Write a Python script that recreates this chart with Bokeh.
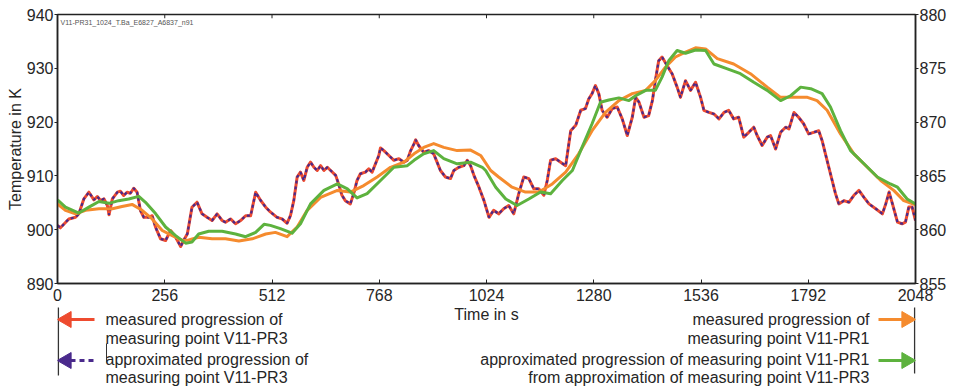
import math
from bokeh.plotting import figure
from bokeh.layouts import column
from bokeh.models import Range1d, LinearAxis, Label, FixedTicker
from bokeh.core.properties import value
from bokeh.embed import file_html
from bokeh.resources import INLINE

# ---- data (time in s, temperature in K) ----
t_pr3 = [0, 7, 27, 43, 51, 63, 75, 87, 95, 103, 111, 119, 123, 131, 143, 150, 158, 166, 174, 182,
         190, 198, 206, 218, 226, 234, 246, 258, 270, 282, 294, 301, 310, 321, 333, 345, 357, 369,
         381, 393, 401, 413, 425, 437, 449, 461, 473, 485, 497,
         508, 524, 536, 548, 556, 564, 572, 580, 588, 596, 604, 612, 620, 628, 636, 644, 652, 664,
         671, 679, 687, 699, 707, 715, 723, 735, 743, 751, 759, 767, 771, 779, 791, 803, 815, 827,
         835, 843, 851, 855, 862, 874, 886, 898, 906, 914, 926, 938, 946, 958, 970, 978, 986, 994,
         1006, 1018,
         1030, 1041, 1053, 1065, 1077, 1089, 1101, 1113, 1125, 1137, 1149, 1161, 1169, 1177, 1189,
         1201, 1213, 1225, 1237, 1249, 1260, 1268, 1276, 1284, 1292, 1300, 1312, 1324, 1336, 1348,
         1360, 1372, 1380, 1388, 1400, 1411, 1420, 1427, 1435, 1443, 1455, 1467, 1479, 1487, 1499,
         1511, 1523, 1535,
         1543, 1555, 1567, 1579, 1591, 1602, 1614, 1626, 1638, 1650, 1662, 1670, 1682, 1694, 1702,
         1714, 1726, 1738, 1746, 1758, 1769, 1781, 1793, 1805, 1817, 1825, 1833, 1845, 1857, 1865,
         1877, 1889, 1901, 1913, 1925, 1937, 1953, 1969, 1977, 1985, 1993, 2005, 2016, 2024, 2032,
         2040, 2048]
v_pr3 = [900.8, 900.35, 902.0, 902.3, 902.95, 905.74, 906.97, 905.55, 906.17, 905.43, 905.74, 904.5,
         902.77, 905.74, 906.97, 907.16, 906.36, 906.97, 906.78, 907.71,
         906.97, 903.57, 902.3, 902.3, 902.6, 900.47, 898.31, 897.99, 899.85, 898.6, 896.88, 897.99,
         899.24, 904.18, 905.11, 902.95, 902.3, 901.71,
         902.95, 901.71, 901.4, 902.0, 901.1, 901.7, 902.6, 902.6, 906.97, 905.43, 904.18,
         903.3, 902.3, 902.0, 901.2, 902.6, 905.4, 909.76, 910.7, 909.15, 911.6, 912.55, 911.6, 911.0,
         911.9, 911.0, 911.6, 911.0, 910.1,
         908.5, 906.4, 905.4, 904.8, 906.7, 909.15, 910.4, 910.7, 911.3, 910.7, 912.25, 913.8, 915.2,
         914.7, 913.8, 912.9, 913.2, 912.55,
         912.9, 914.7, 915.96, 916.7, 915.65, 914.4, 914.7, 914.1, 912.55, 911.0, 909.8, 909.5, 911.0,
         911.6, 911.9, 912.9, 911.9, 910.1,
         907.9, 905.4,
         902.3, 903.6, 902.95, 903.9, 904.5, 902.95, 906.7, 909.8, 909.5, 907.6, 907.6, 906.4, 909.15,
         912.9, 913.2,
         912.55, 911.9, 918.4, 919.4, 922.2, 922.5, 924.3, 925.3, 926.8, 925.3, 922.2, 920.9, 922.5,
         922.8, 920.6,
         917.5, 920.9, 924.6, 923.7, 920.9, 921.2, 924.0, 927.7, 931.4, 932.1, 930.5, 929.0, 926.5,
         924.6, 927.7,
         925.9, 927.4, 924.6,
         922.2, 921.8, 921.5, 920.6, 921.8, 922.2, 920.6, 920.9, 917.2, 918.1, 919.05, 917.5, 915.65,
         917.2, 917.5,
         915.0, 918.1, 919.05, 918.75, 921.8, 920.9, 919.7, 917.8, 918.1, 918.4, 916.6, 914.1, 910.4,
         906.7, 904.8,
         905.4, 905.1, 906.4, 907.3, 906.0, 904.8, 903.9, 902.95, 904.8, 907.0, 904.8, 901.4, 901.1,
         901.4, 904.2,
         904.2, 901.7]

t_pr1 = [0, 19, 43, 67, 99, 131, 154, 178, 202, 226, 250, 274, 298, 313, 337, 369, 401, 433, 465,
         497, 520, 548, 572, 596, 628, 668, 699, 731, 763, 795, 827, 851, 874, 898, 922, 954, 986,
         1010, 1034, 1053, 1085, 1117, 1149, 1181, 1213, 1244, 1276, 1308, 1340, 1372, 1404, 1427,
         1451, 1475, 1499, 1523, 1547, 1575, 1614, 1654, 1694, 1726, 1758, 1790, 1813, 1837, 1869,
         1901, 1933, 1965, 1996, 2020, 2048]
v_pr1 = [904.8, 903.6, 902.95, 903.6, 903.9, 903.9, 904.3, 904.7, 903.6, 902.0, 899.85, 898.9, 898.0,
         898.1, 898.6, 898.3, 898.3, 897.9, 898.3,
         899.2, 899.5, 898.7, 900.5, 903.6, 906.0, 907.3, 907.0, 908.2, 909.8, 911.6, 912.55, 914.1,
         915.3, 916.0, 915.3, 914.7, 914.8,
         913.8, 911.0, 909.8, 907.9, 907.0, 907.0, 908.5, 910.7, 914.1, 918.4, 921.8, 924.0, 925.3,
         925.9, 927.7,
         930.2, 932.1, 933.0, 933.8, 933.6, 931.8, 930.8, 929.0, 926.5, 924.6, 924.6, 924.6, 924.0,
         922.2, 917.8,
         914.1, 911.6, 909.15, 907.3, 905.4, 904.6]

t_app = [0, 19, 51, 75, 99, 123, 146, 170, 194, 210, 234, 258, 282, 306, 321, 337, 361, 393, 425,
         449, 473, 493, 508, 532, 560, 580, 604, 636, 668, 692, 715, 739, 771, 803, 835, 851, 874,
         898, 922, 954, 986, 1014, 1022, 1046, 1070, 1097, 1125, 1153, 1177, 1205, 1229, 1252, 1276,
         1296, 1316, 1340, 1364, 1380, 1404, 1427, 1443, 1459, 1479, 1499, 1523, 1547, 1567, 1599,
         1630, 1662, 1694, 1726, 1750, 1774, 1798, 1825, 1845, 1869, 1893, 1925, 1957, 1988, 2005,
         2028, 2048]
v_app = [905.55, 904.2, 903.1, 904.2, 905.25, 904.9, 905.4, 905.7, 906.2, 905.1, 903.0, 900.5, 898.9,
         897.5, 897.7, 899.2, 899.7, 899.7, 899.2,
         898.7, 899.5, 901.0, 900.8, 900.2, 899.35, 901.1, 904.8, 907.3, 908.5, 907.6, 905.9, 906.7,
         909.15, 911.6, 911.9, 912.9, 914.1,
         914.7, 913.2, 912.25, 912.55, 911.6, 911.0, 907.9, 905.7, 904.5, 905.7, 907.0, 906.7, 909.15,
         911.0, 915.3, 919.7,
         923.7, 924.1, 924.5, 924.0, 924.9, 925.9, 925.9, 928.35, 931.4, 933.3, 932.8, 933.4, 933.3,
         930.8, 929.9,
         929.0, 927.4, 925.9, 924.0, 924.9, 926.5, 926.2, 925.3, 922.8, 918.4, 914.7, 912.25, 909.8,
         908.5, 907.9,
         905.7, 904.8]

x_ticks = [0, 256, 512, 768, 1024, 1280, 1536, 1792, 2048]
y_ticks_left = [890, 900, 910, 920, 930, 940]
y_ticks_right = [855, 860, 865, 870, 875, 880]

legend_left = ["measured progression of", "measuring point V11-PR3",
               "approximated progression of", "measuring point V11-PR3"]
legend_right = ["measured progression of", "measuring point V11-PR1",
                "approximated progression of measuring point V11-PR1",
                "from approximation of measuring point V11-PR3"]

C_RED = "#EE4B2F"
C_PURPLE = "#4A2A8C"
C_ORANGE = "#F58B2E"
C_GREEN = "#5DB23E"
FONT = "Liberation Sans"
TXT = "#262626"
AX = "#222222"

W = 958
BL, BR = 57, 43          # left / right borders (frame spans page x 57..915)
TOP = 306                # page y where the legend strip starts

# ---- main chart ----
p = figure(width=W, height=TOP, x_range=Range1d(0, 2048), y_range=Range1d(890, 940),
           output_backend="svg", toolbar_location=None,
           min_border_left=BL, min_border_right=BR, min_border_top=14, min_border_bottom=TOP - 283)
p.background_fill_color = "white"
p.border_fill_color = "white"
p.outline_line_color = AX
p.outline_line_width = 1.5
p.xgrid.visible = False
p.ygrid.visible = False
p.extra_y_ranges = {"right": Range1d(855, 880)}

def style_axis(ax):
    ax.axis_line_color = AX
    ax.axis_line_width = 1.5
    ax.major_tick_line_color = AX
    ax.major_tick_line_width = 1
    ax.minor_tick_line_color = None
    ax.major_label_text_font = FONT
    ax.major_label_text_font_size = "16px"
    ax.major_label_text_color = TXT

style_axis(p.xaxis[0])
p.xaxis.ticker = FixedTicker(ticks=x_ticks)
p.xaxis.major_tick_in = 4
p.xaxis.major_tick_out = 0
p.xaxis.major_label_standoff = 5

style_axis(p.yaxis[0])
p.yaxis.ticker = FixedTicker(ticks=y_ticks_left)
p.yaxis.major_tick_in = 0
p.yaxis.major_tick_out = 3
p.yaxis.major_label_standoff = 1
p.yaxis.axis_label = "Temperature in K"
p.yaxis.axis_label_text_font = FONT
p.yaxis.axis_label_text_font_size = "16px"
p.yaxis.axis_label_text_font_style = "normal"
p.yaxis.axis_label_text_color = TXT
p.yaxis.axis_label_standoff = 0

ax_r = LinearAxis(y_range_name="right", ticker=FixedTicker(ticks=y_ticks_right))
style_axis(ax_r)
ax_r.major_tick_in = 0
ax_r.major_tick_out = 3
ax_r.major_label_standoff = 1
p.add_layout(ax_r, "right")

# top-axis tick marks (inside)
p.segment(x0=x_ticks, y0=[940] * len(x_ticks), x1=x_ticks, y1=[939.3] * len(x_ticks),
          line_color=AX, line_width=1)

# ---- lines ----
p.line(t_pr3, v_pr3, line_color=C_RED, line_width=3, line_join="round")
p.line(t_pr3, v_pr3, line_color=C_PURPLE, line_width=2.2, line_dash="3 3")
p.line(t_pr1, v_pr1, line_color=C_ORANGE, line_width=3, line_join="round")
p.line(t_app, v_app, line_color=C_GREEN, line_width=3, line_join="round")

p.add_layout(Label(x=2048 * 3 / 858, y=940 - 8 * 50 / 269, text="V11-PR31_1024_T.Ba_E6827_A6837_n91",
                   text_font=FONT, text_font_size="7px", text_color="#555555",
                   text_baseline="middle"))

# ---- legend strip below (coordinates = page pixels; frame aligned with the chart frame) ----
q = figure(width=W, height=388 - TOP, x_range=Range1d(BL, W - BR), y_range=Range1d(388, TOP),
           output_backend="svg", toolbar_location=None,
           min_border_left=BL, min_border_right=BR, min_border_top=0, min_border_bottom=0)
q.axis.visible = False
q.xgrid.visible = False
q.ygrid.visible = False
q.outline_line_color = None
q.background_fill_color = "white"
q.border_fill_color = "white"

q.text(x=[486], y=[314], text=["Time in s"], text_font=value(FONT), text_font_size="16px",
       text_color=TXT, text_align="center", text_baseline="middle")

rows = [319, 338, 359, 377]
q.text(x=[105] * 4, y=rows, text=legend_left, text_font=value(FONT), text_font_size="16px",
       text_color=TXT, text_align="left", text_baseline="middle")
q.text(x=[869] * 4, y=rows, text=legend_right, text_font=value(FONT), text_font_size="16px",
       text_color=TXT, text_align="right", text_baseline="middle")

# bracket lines
q.segment(x0=[57.8, 914.2], y0=[307, 307], x1=[57.8, 914.2], y1=[375, 373],
          line_color="#333333", line_width=1.5)
q.segment(x0=[106], y0=[343], x1=[106], y1=[362], line_color="#333333", line_width=1)

# arrows: shafts
q.segment(x0=[70, 878], y0=[319, 319], x1=[94, 902], y1=[319, 319],
          line_color=[C_RED, C_ORANGE], line_width=3)
q.segment(x0=[70], y0=[360], x1=[94], y1=[360], line_color=C_PURPLE, line_width=3, line_dash="5 4")
q.segment(x0=[878], y0=[360], x1=[902], y1=[360], line_color=C_GREEN, line_width=3)
# arrow heads
q.scatter(x=[66, 66], y=[319, 360], marker="triangle", size=16, angle=math.pi / 2,
          fill_color=[C_RED, C_PURPLE], line_color=[C_RED, C_PURPLE])
q.scatter(x=[906, 906], y=[319, 360], marker="triangle", size=16, angle=-math.pi / 2,
          fill_color=[C_ORANGE, C_GREEN], line_color=[C_ORANGE, C_GREEN])

layout = column(p, q, spacing=0)
open("out.html", "w").write(file_html(layout, INLINE))
